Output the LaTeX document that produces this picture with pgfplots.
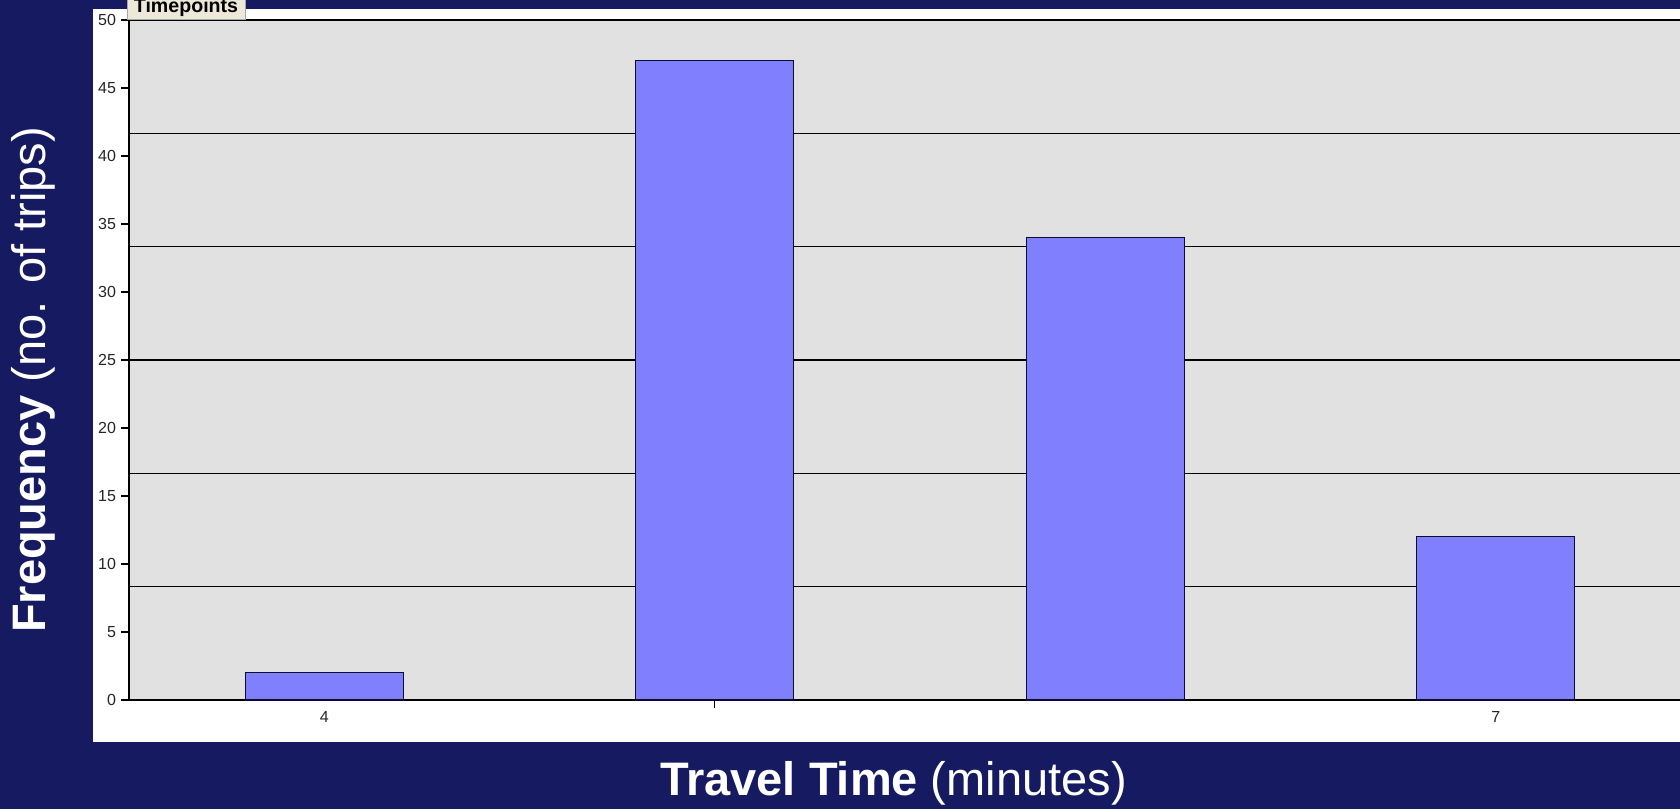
\documentclass[border=0pt]{standalone}
\usepackage{fontspec}
\setmainfont{Liberation Sans}
\usepackage{pgfplots}
\pgfplotsset{compat=1.18}
\definecolor{navy}{HTML}{161A60}
\definecolor{plotgrey}{HTML}{E1E1E1}
\definecolor{barblue}{HTML}{8080FF}
\definecolor{btn}{HTML}{ECE9D8}
\begin{document}
\begin{tikzpicture}[x=0.5pt,y=0.5pt]
\useasboundingbox (0,0) rectangle (1680,809);
\clip (0,0) rectangle (1680,809);
\fill[navy] (0,0) rectangle (1680,809);
\fill[white] (93,67) rectangle (1700,800);
\begin{axis}[
  at={(64.5pt,54.5pt)}, anchor=south west,
  scale only axis, width=781pt, height=340pt,
  xmin=3.5, xmax=7.5, ymin=0, ymax=50,
  axis background/.style={fill=plotgrey},
  axis line style={black, line width=0.75pt},
  ytick={0,5,...,50},
  ytick pos=left, xtick pos=bottom,
  tick align=outside,
  major tick length=4pt,
  tick style={black, line width=0.6pt},
  xtick={5}, xticklabels={},
  extra x ticks={4,7}, extra x tick labels={4,7},
  extra x tick style={major tick length=0pt},
  extra y ticks={8.3333,16.6667,25,33.3333,41.6667},
  extra y tick labels={},
  extra y tick style={grid=major, major tick length=0pt,
     major grid style={black, line width=0.7pt}},
  tick label style={font=\fontsize{8}{9}\selectfont, text=black!85},
  /pgf/number format/assume math mode=true,
  yticklabel style={xshift=1pt},
  xticklabel style={yshift=-2pt},
]
\addplot[ybar, bar width=0.405, fill=barblue, draw=navy!50!black, line width=0.6pt]
  coordinates {(4,2) (5,47) (6,34) (7,12)};
\end{axis}
\fill[btn] (127,789) rectangle (245,809);
\draw[gray!70, line width=0.5pt] (127,809) -- (127,789) -- (245,789) -- (245,809);
\node[anchor=base, inner sep=0pt, font=\fontsize{9.8}{10}\selectfont\bfseries] at (186,796) {Timepoints};
\node[anchor=base, inner sep=0pt, text=white, font=\fontsize{23.5}{28}\selectfont] at (893.5,14)
  {\textbf{Travel Time} (minutes)};
\node[anchor=base, inner sep=0pt, rotate=90, text=white, font=\fontsize{23.5}{28}\selectfont] at (45,429)
  {\textbf{Frequency} (no. of trips)};
\end{tikzpicture}
\end{document}
